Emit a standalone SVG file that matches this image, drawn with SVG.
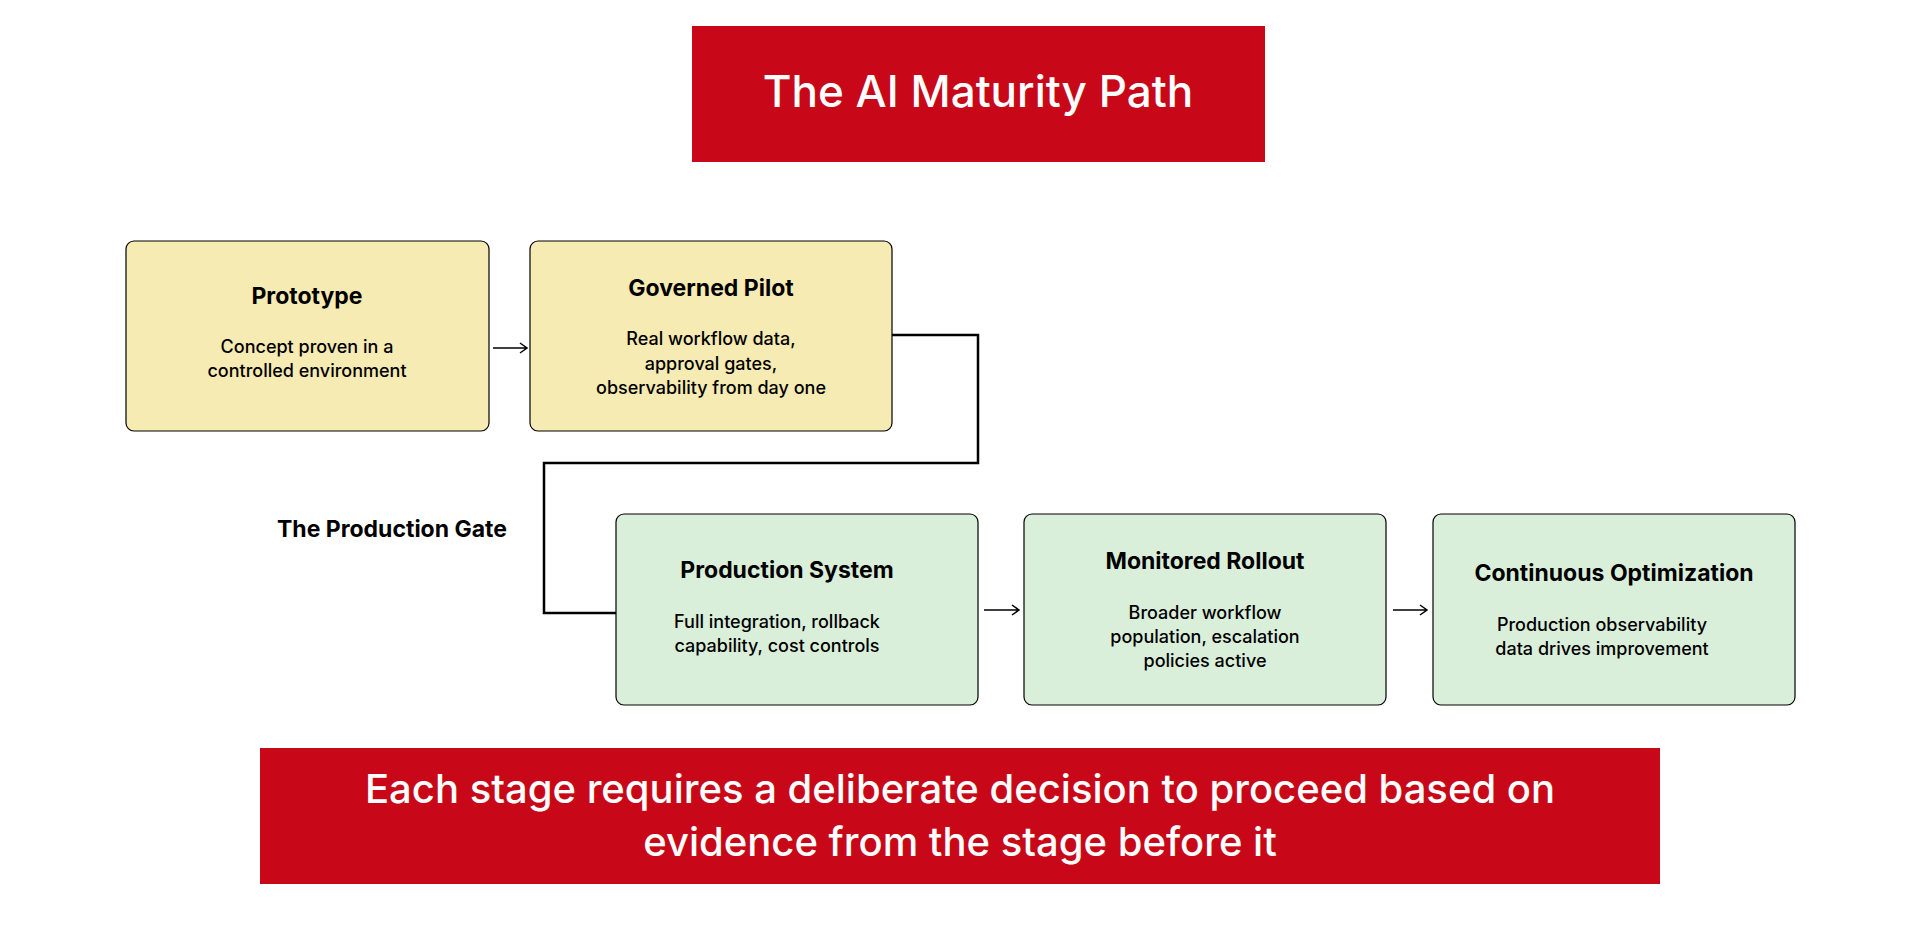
<svg xmlns="http://www.w3.org/2000/svg" width="1920" height="946" viewBox="0 0 1920 946">
<style>
text{font-family:Inter,"Noto Sans",sans-serif;text-anchor:middle;dominant-baseline:middle;fill:#000}
.t{font-size:23px;font-weight:700}
.b{font-size:18px;font-weight:500}
.w{fill:#fff;font-weight:500}
.y{fill:#F6EBB2;stroke:#000;stroke-width:1.2}
.g{fill:#DAEFDA;stroke:#000;stroke-width:1.2}
.c{fill:none;stroke:#000;stroke-width:2.5}
.a{fill:none;stroke:#000;stroke-width:1.5}
</style>
<rect width="1920" height="946" fill="#fff"/>
<g id="title"><rect x="692" y="26" width="573" height="136" fill="#C80818"/><text class="w" x="978" y="95" font-size="44">The AI Maturity Path</text></g>
<g id="connectors">
<path class="c" d="M891 335H978V463H544V613H616"/>
<path class="a" d="M493 348H526M520 343L527 348L520 353"/>
<path class="a" d="M984 610H1018M1012 605L1019 610L1012 615"/>
<path class="a" d="M1393 610H1426M1420 605L1427 610L1420 615"/>
</g>
<g id="prototype"><rect class="y" x="126" y="241" width="363" height="190" rx="8"/><text class="t" x="307" y="298">Prototype</text><text class="b" x="307" y="348">Concept proven in a</text><text class="b" x="307" y="372">controlled environment</text></g>
<g id="pilot"><rect class="y" x="530" y="241" width="362" height="190" rx="8"/><text class="t" x="711" y="290">Governed Pilot</text><text class="b" x="711" y="340">Real workflow data,</text><text class="b" x="711" y="365">approval gates,</text><text class="b" x="711" y="389">observability from day one</text></g>
<g id="gate"><text class="t" x="392" y="531">The Production Gate</text></g>
<g id="production"><rect class="g" x="616" y="514" width="362" height="191" rx="8"/><text class="t" x="787" y="572">Production System</text><text class="b" x="777" y="623">Full integration, rollback</text><text class="b" x="777" y="647">capability, cost controls</text></g>
<g id="rollout"><rect class="g" x="1024" y="514" width="362" height="191" rx="8"/><text class="t" x="1205" y="563">Monitored Rollout</text><text class="b" x="1205" y="614">Broader workflow</text><text class="b" x="1205" y="638">population, escalation</text><text class="b" x="1205" y="662">policies active</text></g>
<g id="optimization"><rect class="g" x="1433" y="514" width="362" height="191" rx="8"/><text class="t" x="1614" y="575">Continuous Optimization</text><text class="b" x="1602" y="626">Production observability</text><text class="b" x="1602" y="650">data drives improvement</text></g>
<g id="footer"><rect x="260" y="748" width="1400" height="136" fill="#C80818"/><text class="w" x="960" y="792" font-size="40">Each stage requires a deliberate decision to proceed based on</text><text class="w" x="960" y="845" font-size="40">evidence from the stage before it</text></g>
</svg>
